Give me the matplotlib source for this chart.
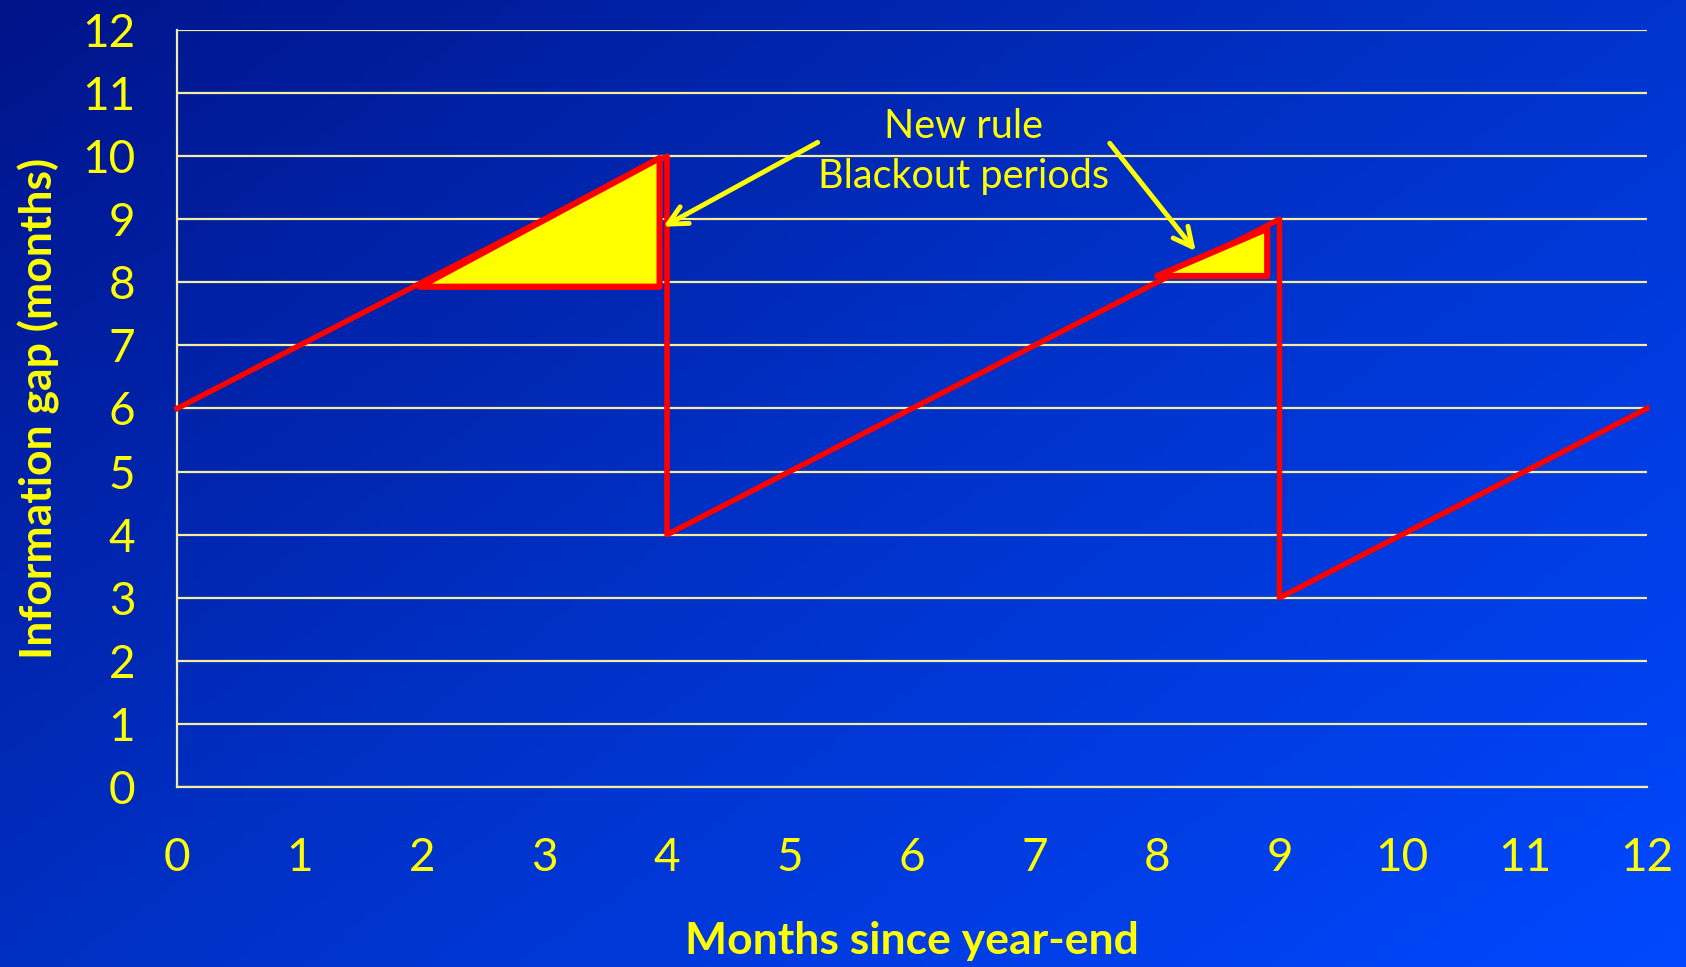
import matplotlib
matplotlib.use("Agg")
import matplotlib.pyplot as plt
import numpy as np
from matplotlib.colors import LinearSegmentedColormap

# data
gap_x = [0, 4, 4, 9, 9, 12]
gap_y = [6, 10, 4, 9, 3, 6]
blackout1_x = [1.98, 3.94, 3.94]
blackout1_y = [7.93, 9.97, 7.93]
blackout2_x = [8.0, 8.9, 8.9]
blackout2_y = [8.1, 8.85, 8.1]
x_ticks = list(range(0, 13))
y_ticks = list(range(0, 13))

yellow = '#ffff00'
grid_col = '#f2eda0'
plt.rcParams['font.family'] = ['Lato', 'DejaVu Sans']

fig = plt.figure(figsize=(16.86, 9.67), dpi=100)

# background gradient: dark navy top-left -> bright blue bottom-right
bg = fig.add_axes([0, 0, 1, 1])
bg.set_axis_off()
xx, yy = np.meshgrid(np.linspace(0, 1, 300), np.linspace(0, 1, 300))
grad = xx * 0.55 + yy * 0.45
cmap = LinearSegmentedColormap.from_list('bg', ['#00148a', '#0032c8', '#0048ff'])
bg.imshow(grad, cmap=cmap, aspect='auto', extent=[0, 1, 0, 1], origin='upper')

ax = fig.add_axes([177 / 1686, 1 - 787 / 967, (1647 - 177) / 1686, (787 - 30) / 967])
ax.patch.set_alpha(0)
ax.set_xlim(0, 12)
ax.set_ylim(0, 12)
ax.set_xticks(x_ticks)
ax.set_yticks(y_ticks)
ax.tick_params(axis='both', length=0, colors=yellow, labelsize=33)
ax.tick_params(axis='x', pad=36)
ax.tick_params(axis='y', pad=30)
ax.grid(axis='y', color=grid_col, lw=1.6)
ax.set_axisbelow(True)
for s in ['top', 'right']:
    ax.spines[s].set_visible(False)
for s in ['left', 'bottom']:
    ax.spines[s].set_color(grid_col)
    ax.spines[s].set_linewidth(1.6)

ax.plot(gap_x, gap_y, color='#ff0000', lw=4, zorder=3, clip_on=False)
ax.fill(blackout1_x, blackout1_y, facecolor=yellow, edgecolor='#ff0000', lw=4.5, zorder=4, joinstyle='round')
ax.fill(blackout2_x, blackout2_y, facecolor=yellow, edgecolor='#ff0000', lw=4.5, zorder=4, joinstyle='round')

ax.text(6.42, 10.47, 'New rule', color=yellow, fontsize=28.5, ha='center', va='center')
ax.text(6.42, 9.68, 'Blackout periods', color=yellow, fontsize=28.5, ha='center', va='center')
arrow = dict(arrowstyle='->', color=yellow, lw=3.5, mutation_scale=34)
ax.annotate('', xy=(3.95, 8.86), xytext=(5.25, 10.24), arrowprops=arrow, zorder=5)
ax.annotate('', xy=(8.33, 8.46), xytext=(7.6, 10.24), arrowprops=arrow, zorder=5)

ax.set_xlabel('Months since year-end', color=yellow, fontsize=32, fontweight='bold', labelpad=30)
ax.set_ylabel('Information gap (months)', color=yellow, fontsize=32, fontweight='bold', labelpad=16)

fig.savefig('out.png', dpi=100)
